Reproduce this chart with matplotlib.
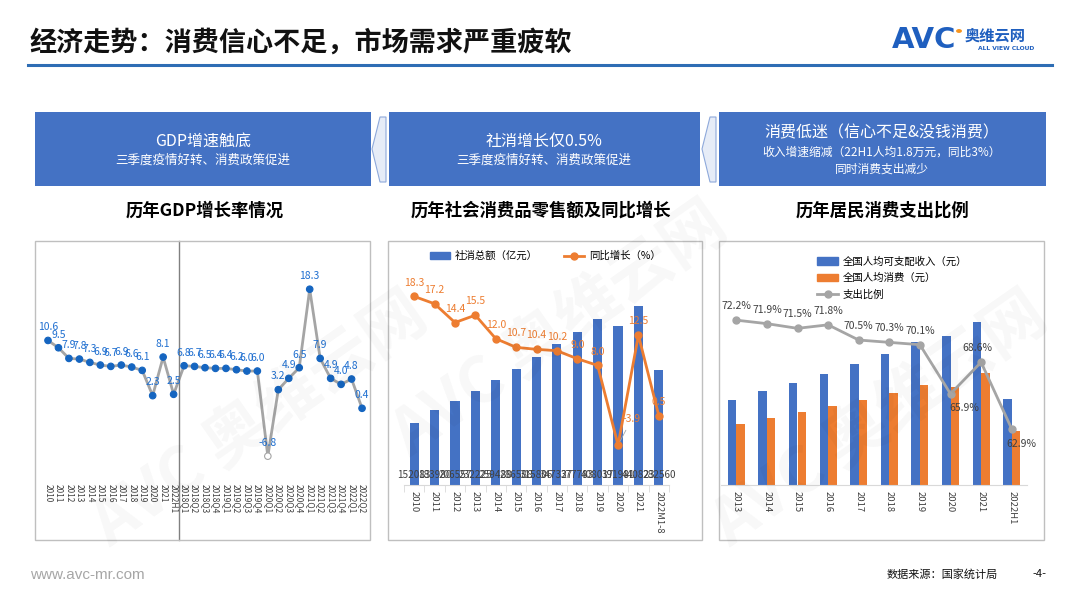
import matplotlib
matplotlib.use('Agg')
import matplotlib.pyplot as plt
from matplotlib.patches import Rectangle, Polygon, Patch
from matplotlib.lines import Line2D
import numpy as np

plt.rcParams['font.family'] = ['Noto Sans CJK SC', 'DejaVu Sans']

W, H = 1080, 604

# ---- data ----
gdp_labels = ['2010', '2011', '2012', '2013', '2014', '2015', '2016', '2017', '2018',
              '2019', '2020', '2021', '2022H1',
              '2018Q1', '2018Q2', '2018Q3', '2018Q4', '2019Q1', '2019Q2', '2019Q3',
              '2019Q4', '2020Q1', '2020Q2', '2020Q3', '2020Q4', '2021Q1', '2021Q2',
              '2021Q3', '2021Q4', '2022Q1', '2022Q2']
gdp_values = [10.6, 9.5, 7.9, 7.8, 7.3, 6.9, 6.7, 6.9, 6.6, 6.1, 2.3, 8.1, 2.5,
              6.8, 6.7, 6.5, 6.4, 6.4, 6.2, 6.0, 6.0, -6.8, 3.2, 4.9, 6.5,
              18.3, 7.9, 4.9, 4.0, 4.8, 0.4]

retail_years = ['2010', '2011', '2012', '2013', '2014', '2015', '2016', '2017',
                '2018', '2019', '2020', '2021', '2022M1-8']
retail_total = [152083, 183980, 206557, 232225, 259488, 286588, 315806, 347327,
                377783, 408017, 391981, 440823, 282560]
retail_growth = [18.3, 17.2, 14.4, 15.5, 12.0, 10.7, 10.4, 10.2, 9.0, 8.0, -3.9, 12.5, 0.5]

cons_years = ['2013', '2014', '2015', '2016', '2017', '2018', '2019', '2020', '2021', '2022H1']
income = [18311, 20167, 21966, 23821, 25974, 28228, 30733, 32189, 35128, 18463]
spending = [13220, 14491, 15712, 17111, 18322, 19853, 21559, 21210, 24100, 11611]
ratio = [72.2, 71.9, 71.5, 71.8, 70.5, 70.3, 70.1, 65.9, 68.6, 62.9]

BLUE = '#4472C4'
ORANGE = '#ED7D31'
GRAY = '#A5A5A5'


def rect(x0, y0, x1, y1):
    # pixel box (top-left origin) -> figure fraction
    return [x0 / W, 1 - y1 / H, (x1 - x0) / W, (y1 - y0) / H]


def fig_box(x0, y0, x1, y1, **kw):
    r = rect(x0, y0, x1, y1)
    fig.add_artist(Rectangle((r[0], r[1]), r[2], r[3], transform=fig.transFigure, **kw))


def ftext(x, y, s, **kw):
    fig.text(x / W, 1 - y / H, s, **kw)


fig = plt.figure(figsize=(W / 100, H / 100), dpi=100)

# ---- header ----
ftext(30, 43, '经济走势：消费信心不足，市场需求严重疲软', fontsize=19.5,
      fontweight='bold', va='center', color='#111111')
fig.add_artist(Line2D([28 / W, 1052 / W], [1 - 65 / H] * 2, color='#2E6DB4', lw=2.2))
ftext(892, 40, 'AVC', fontsize=21, fontweight='heavy', color='#1F5FBF',
      va='center', family='DejaVu Sans')
fig.add_artist(plt.Circle((959 / W, 1 - 31 / H), 2.2 / W, color='#F7941D', transform=fig.transFigure))
ftext(965, 36, '奥维云网', fontsize=11, fontweight='bold', color='#1F5FBF', va='center')
ftext(978, 48, 'ALL VIEW CLOUD', fontsize=4.3, fontweight='bold', color='#1F5FBF',
      va='center', family='DejaVu Sans')

# ---- blue boxes ----
fig_box(35, 112, 371, 186, color=BLUE, lw=0)
fig_box(389, 112, 700, 186, color=BLUE, lw=0)
fig_box(719, 112, 1046, 186, color=BLUE, lw=0)
for ax0 in (372, 702):
    pts = [(ax0, 149), (ax0 + 8, 117), (ax0 + 14, 117), (ax0 + 14, 182), (ax0 + 8, 182)]
    fig.add_artist(Polygon([(px / W, 1 - py / H) for px, py in pts], closed=True,
                           transform=fig.transFigure, facecolor='#E6ECF7',
                           edgecolor='#8EA9DB', lw=0.8))

ftext(203, 141, 'GDP增速触底', fontsize=11.5, color='white', ha='center', va='center')
ftext(203, 160, '三季度疫情好转、消费政策促进', fontsize=9, color='white', ha='center', va='center')
ftext(544, 141, '社消增长仅0.5%', fontsize=11.5, color='white', ha='center', va='center')
ftext(544, 160, '三季度疫情好转、消费政策促进', fontsize=9, color='white', ha='center', va='center')
ftext(882, 133, '消费低迷（信心不足&没钱消费）', fontsize=11.5, color='white', ha='center', va='center')
ftext(882, 152, '收入增速缩减（22H1人均1.8万元，同比3%）', fontsize=8.5, color='white',
      ha='center', va='center')
ftext(882, 169, '同时消费支出减少', fontsize=8.5, color='white', ha='center', va='center')

# ---- chart titles ----
ftext(205, 211, '历年GDP增长率情况', fontsize=12.5, fontweight='bold', ha='center', va='center')
ftext(541, 211, '历年社会消费品零售额及同比增长', fontsize=12.5, fontweight='bold',
      ha='center', va='center')
ftext(882, 211, '历年居民消费支出比例', fontsize=12.5, fontweight='bold', ha='center', va='center')

# chart frames
for x0, x1 in ((35, 370), (388, 702), (719, 1044)):
    fig_box(x0, 241, x1, 540, fill=False, edgecolor='#BFBFBF', lw=1)

# ---- GDP chart ----
ax = fig.add_axes(rect(38, 242, 370, 478))
x = np.arange(len(gdp_values))
ax.plot(x, gdp_values, color=GRAY, lw=2, zorder=2)
faces = ['white' if v < 0 else '#1565C0' for v in gdp_values]
edges = [GRAY if v < 0 else '#1565C0' for v in gdp_values]
ax.scatter(x, gdp_values, s=22, c=faces, edgecolors=edges, linewidths=0.8, zorder=3)
for i, v in enumerate(gdp_values):
    ax.annotate(f'{v:.1f}', (i, v), xytext=(0, 9.5), textcoords='offset points',
                ha='center', va='center', fontsize=7.5, color='#1F6FD0')
ax.set_xlim(-0.955, 30.76)
ax.set_ylim(-10.08, 25.4)
ax.set_xticks(x)
ax.set_xticklabels(gdp_labels, rotation=270, fontsize=6, color='#404040')
ax.tick_params(axis='x', length=0, pad=4)
ax.set_yticks([])
for s in ax.spines.values():
    s.set_visible(False)
ax.axvline(12.5, ymin=-0.263, ymax=1.004, clip_on=False, color='#808080', lw=1)

# ---- retail chart ----
ax = fig.add_axes(rect(404, 265, 669, 485))
x = np.arange(len(retail_total))
ax.bar(x, retail_total, width=0.45, color=BLUE, zorder=2)
for i, v in enumerate(retail_total):
    ax.annotate(str(v), (i, 0), xytext=(0, 7), textcoords='offset points',
                ha='center', va='center', fontsize=7.2, color='#404040', zorder=4)
ax.set_xlim(-0.5, 12.5)
ax.set_ylim(0, 541900)
ax.set_xticks(x)
ax.set_xticklabels(retail_years, rotation=270, fontsize=6.8, color='#404040')
ax.set_xticks(np.arange(-0.5, 13, 1), minor=True)
ax.tick_params(axis='x', which='major', length=0, pad=4)
ax.tick_params(axis='x', which='minor', length=5, color='#D9D9D9')
ax.set_yticks([])
for k, s in ax.spines.items():
    s.set_visible(k == 'bottom')
ax.spines['bottom'].set_color('#D9D9D9')
ax2 = ax.twinx()
ax2.plot(x, retail_growth, color=ORANGE, lw=2, marker='o', ms=5, zorder=3)
ax2.set_ylim(-9.85, 22.99)
ax2.set_yticks([])
for s in ax2.spines.values():
    s.set_visible(False)
for i, v in enumerate(retail_growth):
    if v < 0:
        ax2.annotate(f'{v:.1f}', (i, v), xytext=(10, 19), textcoords='offset points',
                     ha='center', va='center', fontsize=7.5, color=ORANGE,
                     arrowprops=dict(arrowstyle='-', color=GRAY, lw=0.6, shrinkA=3, shrinkB=3))
    else:
        ax2.annotate(f'{v:.1f}', (i, v), xytext=(0, 10), textcoords='offset points',
                     ha='center', va='center', fontsize=7.5, color=ORANGE)
fig.legend([Patch(color=BLUE), Line2D([], [], color=ORANGE, lw=2, marker='o', ms=5)],
           ['社消总额（亿元）', '同比增长（%）'], loc='center',
           bbox_to_anchor=(545 / W, 1 - 256 / H), ncol=2, frameon=False, fontsize=7.5,
           handlelength=2.0, columnspacing=2.5, handletextpad=0.4)

# ---- consumption chart ----
ax = fig.add_axes(rect(721, 250, 1027, 485))
x = np.arange(len(income))
ax.bar(x - 0.14, income, width=0.28, color=BLUE, zorder=2)
ax.bar(x + 0.14, spending, width=0.28, color=ORANGE, zorder=2)
ax.set_xlim(-0.5, 9.5)
ax.set_ylim(0, 50640)
ax.set_xticks(x)
ax.set_xticklabels(cons_years, rotation=270, fontsize=6.8, color='#404040')
ax.tick_params(axis='x', length=0, pad=4)
ax.set_yticks([])
for k, s in ax.spines.items():
    s.set_visible(k == 'bottom')
ax.spines['bottom'].set_color('#D9D9D9')
ax2 = ax.twinx()
ax2.plot(x, ratio, color=GRAY, lw=2, marker='o', ms=5, zorder=3)
ax2.set_ylim(58.1, 78.2)
ax2.set_yticks([])
for s in ax2.spines.values():
    s.set_visible(False)
offsets = {7: (10, -10), 8: (-3, 10), 9: (7, -11)}
for i, v in enumerate(ratio):
    ax2.annotate(f'{v:.1f}%', (i, v), xytext=offsets.get(i, (0, 10)),
                 textcoords='offset points', ha='center', va='center',
                 fontsize=7.5, color='#404040')
fig.legend([Patch(color=BLUE), Patch(color=ORANGE),
            Line2D([], [], color=GRAY, lw=2, marker='o', ms=5)],
           ['全国人均可支配收入（元）', '全国人均消费（元）', '支出比例'],
           loc='upper left', bbox_to_anchor=(808 / W, 1 - 247 / H), frameon=False,
           fontsize=7.5, labelspacing=0.6, handlelength=2.0, handletextpad=0.4)

# ---- watermark ----
for wx, wy in ((260, 420), (560, 330), (880, 420)):
    ftext(wx, wy, 'AVC 奥维云网', fontsize=46, fontweight='bold', color='black', alpha=0.03,
          rotation=35, ha='center', va='center')

# ---- footer ----
ftext(30, 575, 'www.avc-mr.com', fontsize=11, color='#A6A6A6', va='center',
      family='Liberation Sans')
ftext(887, 574, '数据来源：国家统计局', fontsize=8, color='#111111', va='center')
ftext(1032, 574, '-4-', fontsize=8, color='#111111', va='center')

fig.savefig('out.png', dpi=100)
